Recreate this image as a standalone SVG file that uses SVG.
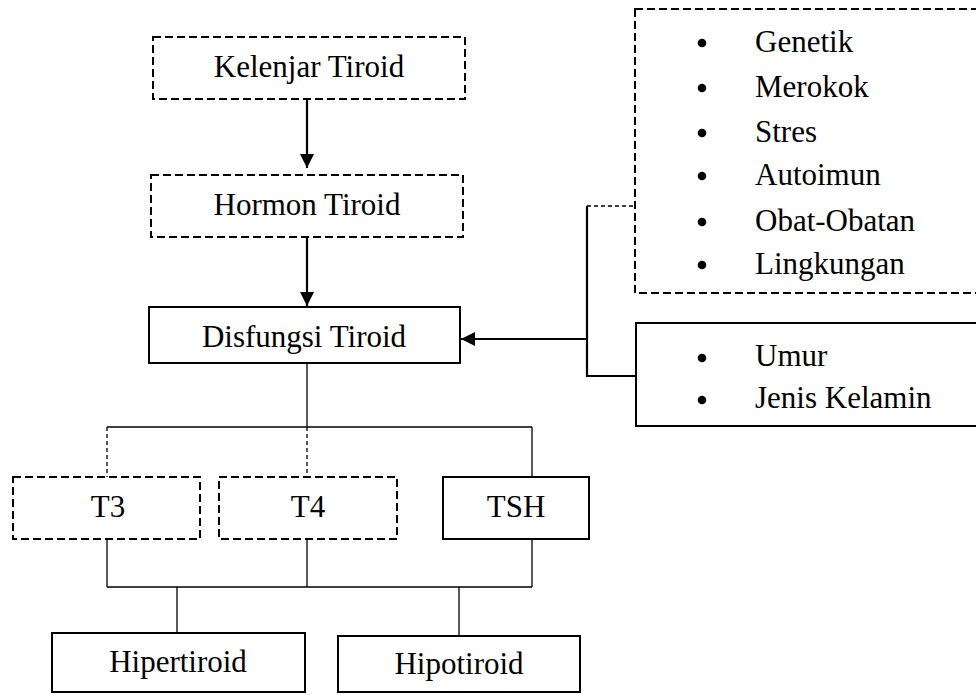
<svg xmlns="http://www.w3.org/2000/svg" width="976" height="695" viewBox="0 0 976 695">
<style>
text{font-family:"Liberation Serif","Times New Roman",serif;font-size:31px;fill:#000}
.c{text-anchor:middle}
.box{fill:#fff;stroke:#000;stroke-width:2}
.dbox{fill:#fff;stroke:#000;stroke-width:2;stroke-dasharray:8 4}
.thin{fill:none;stroke:#000;stroke-width:1.3}
.thind{fill:none;stroke:#000;stroke-width:1.3;stroke-dasharray:4 3}
.thick{fill:none;stroke:#000;stroke-width:2.2}
.dot{fill:#000}
</style>
<defs>
<marker id="ah" viewBox="0 0 10 10" refX="10" refY="5" markerWidth="6.5" markerHeight="6.5" markerUnits="strokeWidth" orient="auto">
<path d="M0,0 L10,5 L0,10 z" fill="#000"/>
</marker>
</defs>
<g id="connectors">
<line class="thick" x1="307" y1="99" x2="307" y2="168" marker-end="url(#ah)"/>
<line class="thick" x1="307" y1="237" x2="307" y2="306" marker-end="url(#ah)"/>
<polyline class="thick" points="587,206 587,376 636,376"/>
<line class="thind" x1="587" y1="206" x2="635" y2="206"/>
<line class="thick" x1="587" y1="339" x2="461" y2="339" marker-end="url(#ah)"/>
<line class="thin" x1="307" y1="363" x2="307" y2="427"/>
<line class="thin" x1="107" y1="427" x2="532" y2="427"/>
<line class="thind" x1="107" y1="427" x2="107" y2="477"/>
<line class="thind" x1="307" y1="427" x2="307" y2="477"/>
<line class="thin" x1="532" y1="427" x2="532" y2="477"/>
<line class="thin" x1="107" y1="539" x2="107" y2="587"/>
<line class="thin" x1="307" y1="539" x2="307" y2="587"/>
<line class="thin" x1="532" y1="539" x2="532" y2="587"/>
<line class="thin" x1="107" y1="587" x2="532" y2="587"/>
<line class="thin" x1="177" y1="587" x2="177" y2="633"/>
<line class="thin" x1="459" y1="587" x2="459" y2="636"/>
</g>
<g id="kelenjar">
<rect class="dbox" x="153" y="37" width="312" height="62"/>
<text class="c" x="309" y="77">Kelenjar Tiroid</text>
</g>
<g id="hormon">
<rect class="dbox" x="151" y="175" width="312" height="62"/>
<text class="c" x="307" y="215">Hormon Tiroid</text>
</g>
<g id="disfungsi">
<rect class="box" x="149" y="307" width="311" height="56"/>
<text class="c" x="304" y="347">Disfungsi Tiroid</text>
</g>
<g id="faktor1">
<rect class="dbox" x="635" y="9" width="350" height="284"/>
<circle class="dot" cx="702" cy="43" r="4.3"/><text x="755" y="52">Genetik</text>
<circle class="dot" cx="702" cy="88" r="4.3"/><text x="755" y="97">Merokok</text>
<circle class="dot" cx="702" cy="133" r="4.3"/><text x="755" y="142">Stres</text>
<circle class="dot" cx="702" cy="176" r="4.3"/><text x="755" y="185">Autoimun</text>
<circle class="dot" cx="702" cy="222" r="4.3"/><text x="755" y="231">Obat-Obatan</text>
<circle class="dot" cx="702" cy="265" r="4.3"/><text x="755" y="274">Lingkungan</text>
</g>
<g id="faktor2">
<rect class="box" x="636" y="323" width="350" height="103"/>
<circle class="dot" cx="702" cy="358" r="4.3"/><text x="755" y="366">Umur</text>
<circle class="dot" cx="702" cy="400" r="4.3"/><text x="755" y="408">Jenis Kelamin</text>
</g>
<g id="t3">
<rect class="dbox" x="13" y="477" width="187" height="62"/>
<text class="c" x="108" y="517">T3</text>
</g>
<g id="t4">
<rect class="dbox" x="219" y="477" width="178" height="62"/>
<text class="c" x="308" y="517">T4</text>
</g>
<g id="tsh">
<rect class="box" x="443" y="477" width="146" height="62"/>
<text class="c" x="516" y="517">TSH</text>
</g>
<g id="hipertiroid">
<rect class="box" x="52" y="633" width="253" height="59"/>
<text class="c" x="178" y="672">Hipertiroid</text>
</g>
<g id="hipotiroid">
<rect class="box" x="338" y="636" width="242" height="56"/>
<text class="c" x="459" y="674">Hipotiroid</text>
</g>
</svg>
